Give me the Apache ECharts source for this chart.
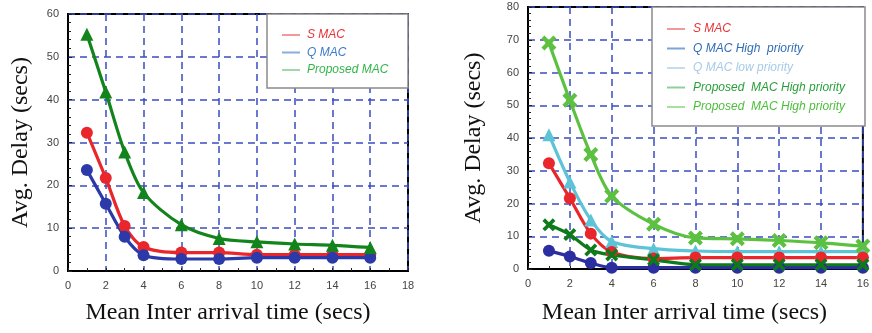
<!DOCTYPE html>
<html><head><meta charset="utf-8">
<script src="https://cdn.jsdelivr.net/npm/echarts@6/dist/echarts.min.js"></script>
<style>html,body{margin:0;padding:0;background:#fff}#c{width:872px;height:333px}</style>
</head><body><div id="c"></div>
<script>
// ---- data ----
const xVals = [1, 2, 3, 4, 6, 8, 10, 12, 14, 16];

const leftNames = ['S MAC', 'Q MAC', 'Proposed MAC'];
const leftSMAC = [32.3, 21.7, 10.5, 5.6, 4.3, 4.3, 3.8, 3.8, 3.8, 3.8];
const leftQMAC = [23.6, 15.7, 8.0, 3.7, 2.8, 2.8, 3.1, 3.1, 3.1, 3.1];
const leftProposed = [55.3, 41.8, 27.8, 18.3, 10.8, 7.6, 6.8, 6.3, 6.0, 5.5];

const rightNames = ['S MAC', 'Q MAC High  priority', 'Q MAC low priority', 'Proposed  MAC High priority', 'Proposed  MAC High priority'];
const rightSMAC = [32.3, 21.6, 10.8, 5.2, 3.2, 3.5, 3.5, 3.5, 3.5, 3.5];
const rightQHigh = [5.6, 3.8, 1.8, 0.4, 0.4, 0.4, 0.4, 0.4, 0.4, 0.4];
const rightQLow = [41.0, 26.6, 15.0, 8.4, 6.2, 5.5, 5.3, 5.3, 5.3, 5.3];
const rightPropHigh = [13.5, 10.5, 5.8, 4.3, 2.8, 1.3, 1.3, 1.3, 1.3, 1.3];
const rightPropLow = [69.0, 51.5, 35.0, 22.3, 13.7, 9.5, 9.2, 8.7, 8.0, 7.0];

const leftXTicks = [0, 18, 2];   // min, max, interval
const leftYTicks = [0, 60, 10];
const rightXTicks = [0, 16, 2];
const rightYTicks = [0, 80, 10];

const xTitle = 'Mean Inter arrival time (secs)';
const yTitle = 'Avg. Delay (secs)';

// ---- build ----
const pairs = ys => xVals.map((x, i) => [x, ys[i]]);
const xShape = 'path://M0,2L2,0L5,3L8,0L10,2L7,5L10,8L8,10L5,7L2,10L0,8L3,5Z';
const starShape = 'path://M0,2L2,0L5,3L8,0L10,2L7,5L10,8L8,10L5,7L2,10L0,8L3,5ZM2.5,2.5L7.5,2.5L7.5,7.5L2.5,7.5Z';

const gridLine = {show: true, lineStyle: {color: '#3a4cc0', type: [7, 5], width: 1.5}};
const lbl = {color: '#444', fontSize: 11, fontFamily: 'Liberation Sans'};

function xAxis(idx, t, gap, shift) {
  return {type: 'value', gridIndex: idx, min: t[0], max: t[1], interval: t[2],
    name: xTitle, nameLocation: 'middle', nameGap: gap,
    nameTextStyle: {fontFamily: 'Liberation Serif', fontSize: 24, color: '#111', padding: [0, shift, 0, 0]},
    axisLine: {show: true, lineStyle: {color: '#000', width: 2}},
    axisTick: {show: true, inside: true, length: 3, lineStyle: {color: '#222'}},
    minorTick: {show: true, splitNumber: 2, length: 3, lineStyle: {color: '#222'}},
    axisLabel: Object.assign({margin: 9}, lbl),
    splitLine: gridLine};
}
function yAxis(idx, t, gap) {
  return {type: 'value', gridIndex: idx, min: t[0], max: t[1], interval: t[2],
    name: yTitle, nameLocation: 'middle', nameGap: gap, nameRotate: 90,
    nameTextStyle: {fontFamily: 'Liberation Serif', fontSize: 24, color: '#111'},
    axisLine: {show: true, lineStyle: {color: '#000', width: 2}},
    axisTick: {show: true, inside: true, length: 4, lineStyle: {color: '#222'}},
    minorTick: {show: true, splitNumber: 5, length: 3, lineStyle: {color: '#222'}},
    axisLabel: Object.assign({margin: 9}, lbl),
    splitLine: gridLine};
}
function line(name, xi, ys, color, symbol, size) {
  return {type: 'line', name: name, xAxisIndex: xi, yAxisIndex: xi, data: pairs(ys),
    smooth: 0.3, symbol: symbol, symbolSize: size, clip: false,
    lineStyle: {color: color, width: 3.2}, itemStyle: {color: color}};
}

function legendBox(x, y, w, h, names, textColors, lineColors, y0, dy, lx, tx, fs) {
  const els = [{type: 'rect', shape: {x: x, y: y, width: w, height: h},
    style: {fill: '#fff', stroke: '#8a8a8a', lineWidth: 1.5}, z: 100}];
  names.forEach((n, i) => {
    const yy = y0 + i * dy;
    els.push({type: 'line', shape: {x1: lx, y1: yy, x2: lx + 18, y2: yy},
      style: {stroke: lineColors[i], lineWidth: 2}, z: 101});
    els.push({type: 'text', x: tx, y: yy, z: 101,
      style: {text: n, fill: textColors[i], font: 'italic ' + fs + 'px "Liberation Sans"', textVerticalAlign: 'middle'}});
  });
  return els;
}

const option = {
  animation: false,
  backgroundColor: '#fff',
  grid: [
    {left: 68, right: 464, top: 14, bottom: 62, show: true, borderColor: '#000', borderWidth: 2},
    {left: 528, right: 7, top: 7, bottom: 64, show: true, borderColor: '#000', borderWidth: 2}
  ],
  xAxis: [xAxis(0, leftXTicks, 30, 20), xAxis(1, rightXTicks, 32, 22)],
  yAxis: [yAxis(0, leftYTicks, 35), yAxis(1, rightYTicks, 42)],
  series: [
    line(leftNames[0], 0, leftSMAC, '#e8262c', 'circle', 12),
    line(leftNames[1], 0, leftQMAC, '#2b3aa8', 'circle', 12),
    line(leftNames[2], 0, leftProposed, '#13841c', 'triangle', 13),
    line(rightNames[2], 1, rightQLow, '#5cc4d6', 'triangle', 13),
    line(rightNames[0], 1, rightSMAC, '#e8262c', 'circle', 12),
    line(rightNames[1], 1, rightQHigh, '#2a2ea0', 'circle', 12),
    line(rightNames[3], 1, rightPropHigh, '#0f7a1a', xShape, 13),
    line(rightNames[4], 1, rightPropLow, '#5cc040', starShape, 15)
  ],
  graphic: [].concat(
    legendBox(267, 14, 141, 74, leftNames, ['#e8343a', '#3d7cc9', '#33b54a'],
      ['#f29a9a', '#8aaedc', '#a0d8a8'], 35, 17.5, 282, 307, 12),
    legendBox(652, 7, 213, 119, rightNames, ['#e8343a', '#2f6db5', '#a6cbe8', '#2aa03a', '#4cbf3a'],
      ['#f29a9a', '#7aa6d6', '#c4def0', '#8fd09a', '#a8e0a0'], 29, 19.5, 667, 693, 12)
  )
};
const chart = echarts.init(document.getElementById('c'));
chart.setOption(option);
</script></body></html>
